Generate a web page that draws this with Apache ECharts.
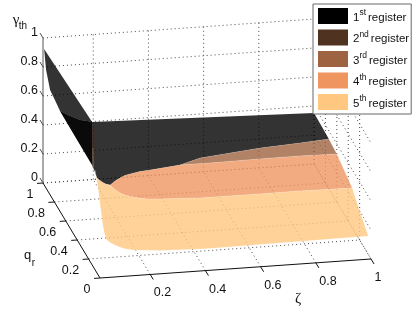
<!DOCTYPE html>
<html>
<head>
<meta charset="utf-8">
<style>html,body{margin:0;padding:0;background:#fff}#c{width:415px;height:312px}</style>
<script src="https://cdn.jsdelivr.net/npm/echarts@6/dist/echarts.min.js"></script>
</head>
<body>
<div id="c"></div>
<script>
// ---- tick values and labels ----
const zetaTicks = [0, 0.2, 0.4, 0.6, 0.8, 1];
const qTicks = [0.2, 0.4, 0.6, 0.8, 1];
const gammaTicks = [0, 0.2, 0.4, 0.6, 0.8, 1];
const zetaMin = 0.018;
const registerNames = ['1st register', '2nd register', '3rd register', '4th register', '5th register'];
const registerColors = ['#000000', '#4f3220', '#9e6340', '#ef9560', '#ffc780'];

// ---- surface pieces: [zeta, q, gamma_th] ----
const register1Flap = [[0.022,1,0.923],[0.196,1,0.397],[0.136,0.92,0.471],[0.085,0.85,0.551],[0.026,0.74,0.666],[0.024,0.82,0.69],[0.023,0.9,0.706],[0.023,0.97,0.798]];
const register1Fold = [[0.026,0.74,0.666],[0.085,0.85,0.551],[0.136,0.92,0.471],[0.196,1,0.397],[0.041,0.25,0.613]];
const register1FoldBack = [[0.026,0.74,0.666],[0.085,0.85,0.551],[0.136,0.92,0.471],[0.196,1,0.397],[0.041,0.25,0.613]];
const register1Main = [[0.196,1,0.397],[1,1,0.352],[1,0.74,0.343],[0.891,0.72,0.343],[0.743,0.7,0.341],[0.63,0.68,0.335],[0.517,0.66,0.328],[0.435,0.62,0.317],[0.377,0.6,0.321],[0.319,0.58,0.325],[0.276,0.55,0.34],[0.234,0.52,0.348],[0.211,0.5,0.354],[0.185,0.46,0.366],[0.151,0.38,0.402],[0.123,0.33,0.411],[0.101,0.3,0.441],[0.077,0.25,0.491],[0.048,0.2,0.554],[0.045,0.22,0.583],[0.041,0.25,0.613]];
const register2Sliver = [[0.051,0.3,0.834],[0.055,0.3,0.834],[0.056,0.3,0.694],[0.052,0.3,0.694]];
const register3Sliver = [[0.052,0.3,0.694],[0.056,0.3,0.694],[0.058,0.3,0.556],[0.054,0.3,0.556]];
const register3Main = [[0.435,0.62,0.317],[0.517,0.66,0.328],[0.63,0.68,0.335],[0.743,0.7,0.341],[0.891,0.72,0.343],[1,0.74,0.343],[1,0.6,0.331],[0.864,0.59,0.342],[0.718,0.58,0.348],[0.54,0.6,0.33]];
const register4Main = [[0.123,0.33,0.411],[0.151,0.38,0.402],[0.185,0.46,0.366],[0.211,0.5,0.354],[0.234,0.52,0.348],[0.276,0.55,0.34],[0.319,0.58,0.325],[0.377,0.6,0.321],[0.435,0.62,0.317],[0.54,0.6,0.33],[0.718,0.58,0.348],[0.864,0.59,0.342],[1,0.6,0.331],[1,0.33,0.273],[0.81,0.33,0.278],[0.666,0.33,0.277],[0.448,0.33,0.278],[0.304,0.33,0.291],[0.257,0.33,0.297],[0.231,0.33,0.305],[0.207,0.33,0.318],[0.18,0.33,0.331],[0.158,0.33,0.351],[0.137,0.33,0.382]];
const register5Main = [[0.123,0.33,0.411],[0.137,0.33,0.382],[0.158,0.33,0.351],[0.18,0.33,0.331],[0.207,0.33,0.318],[0.231,0.33,0.305],[0.257,0.33,0.297],[0.304,0.33,0.291],[0.448,0.33,0.278],[0.666,0.33,0.277],[0.81,0.33,0.278],[1,0.33,0.273],[1,0.263,0.234],[1,0.05,0.126],[0.409,0.05,0.116],[0.246,0.05,0.127],[0.148,0.05,0.143],[0.115,0.05,0.158],[0.09,0.05,0.178],[0.068,0.05,0.202],[0.053,0.05,0.224],[0.043,0.05,0.281],[0.036,0.05,0.365],[0.029,0.05,0.469],[0.032,0.1,0.553],[0.031,0.15,0.645],[0.045,0.22,0.583],[0.048,0.2,0.554],[0.077,0.25,0.491],[0.101,0.3,0.441]];
const registerPieces = [[register1Flap, register1Fold, register1FoldBack, register1Main],[register2Sliver],[register3Main, register3Sliver],[register4Main],[register5Main]];
const unoutlined = [register1Flap, register1Fold, register1FoldBack, register1Main, register2Sliver, register3Sliver];

// ---- oblique view of the 3-D box, mapped onto hidden value axes ----
function view(z, q, g) {
  return [100 + 276 * (z - zetaMin) - 57 * q, 278 - 19.35 * (z - zetaMin) - 95 * q - 145 * g];
}
const FONT = '"Liberation Sans", Arial, sans-serif';
const GREEK = '"Liberation Serif", serif';

function lineSeries(name, segs, style) {
  return {
    type: 'custom', name, coordinateSystem: 'cartesian2d', silent: true, clip: false, z: 1,
    data: segs.map((s, i) => [i]),
    renderItem: (p, api) => {
      const s = segs[api.value(0)];
      const a = api.coord(s[0]), b = api.coord(s[1]);
      return { type: 'line', shape: { x1: a[0], y1: a[1], x2: b[0], y2: b[1] }, style };
    }
  };
}

// grid on floor and the two back walls
const gridSegs = [];
const zt = zetaTicks.filter(v => v > 0);
zt.forEach(z => {
  gridSegs.push([view(z, 0, 0), view(z, 1, 0)]);
  gridSegs.push([view(z, 1, 0), view(z, 1, 1)]);
});
qTicks.forEach(q => {
  gridSegs.push([view(zetaMin, q, 0), view(1, q, 0)]);
  gridSegs.push([view(1, q, 0), view(1, q, 1)]);
});
gammaTicks.forEach(g => {
  gridSegs.push([view(zetaMin, 1, g), view(1, 1, g)]);
  gridSegs.push([view(1, 1, g), view(1, 0, g)]);
});

// axes and tick marks
const axisSegs = [
  [view(zetaMin, 0, 0), view(1, 0, 0)],
  [view(zetaMin, 0, 0), view(zetaMin, 1, 0)]
];
zt.forEach(z => { const a = view(z, 0, 0); axisSegs.push([a, [a[0] + 3, a[1] + 5]]); });
[0].concat(qTicks).forEach(q => { const a = view(zetaMin, q, 0); axisSegs.push([a, [a[0] - 6, a[1] + 0.4]]); });
const zAxisSegs = [[view(zetaMin, 1, 0), view(zetaMin, 1, 1)]];
gammaTicks.forEach(g => { const a = view(zetaMin, 1, g); zAxisSegs.push([a, [a[0] - 3, a[1] - 5]]); });

// text labels
const texts = [];
const fmt = v => String(v);
zetaTicks.forEach(z => {
  if (z === 0) { const a = view(z, 0, 0); texts.push({ p: [a[0] - 8, a[1] + 11], t: fmt(z), align: 'center' }); }
  else { const a = view(z, 0, 0); texts.push({ p: [a[0] + 3.5, a[1] + 18.5], t: fmt(z), align: 'left' }); }
});
qTicks.forEach(q => { const a = view(zetaMin, q, 0); texts.push({ p: [a[0] - 9.5, a[1] + 11.5], t: fmt(q), align: 'right' }); });
gammaTicks.forEach(g => { const a = view(zetaMin, 1, g); texts.push({ p: [a[0] - 5, a[1] - 5.5], t: fmt(g), align: 'right' }); });
texts.push({ p: [16, 20], t: 'γ', align: 'center', size: 15, family: GREEK });
texts.push({ p: [23, 26], t: 'th', align: 'center', size: 10 });
texts.push({ p: [27.5, 255], t: 'q', align: 'center', size: 13 });
texts.push({ p: [33.5, 263], t: 'r', align: 'center', size: 10 });
texts.push({ p: [298, 299], t: 'ζ', align: 'center', size: 15, family: GREEK });

const series = [
  lineSeries('grid', gridSegs, { stroke: '#4a4a4a', lineWidth: 1, lineDash: [1, 3] }),
  lineSeries('axes', axisSegs, { stroke: '#111', lineWidth: 1 }),
  lineSeries('zaxis', zAxisSegs, { stroke: '#555', lineWidth: 1 })
];
registerNames.forEach((name, r) => {
  const pieces = registerPieces[r];
  series.push({
    type: 'custom', name, coordinateSystem: 'cartesian2d', silent: true, clip: false, z: 2,
    itemStyle: { color: registerColors[r] },
    data: pieces.map((s, i) => [i]),
    renderItem: (p, api) => {
      const piece = pieces[api.value(0)];
      const pts = piece.map(v => api.coord(view(v[0], v[1], v[2])));
      const edge = unoutlined.includes(piece) ? null : 'rgba(255,255,255,0.35)';
      return { type: 'polygon', shape: { points: pts },
        style: { fill: registerColors[r], opacity: 0.8, stroke: edge, lineWidth: 0.5 } };
    }
  });
});
series.push({
  type: 'custom', name: 'labels', coordinateSystem: 'cartesian2d', silent: true, clip: false, z: 3,
  data: texts.map((s, i) => [i]),
  renderItem: (p, api) => {
    const t = texts[api.value(0)];
    const c = api.coord(t.p);
    return { type: 'text', x: c[0], y: c[1],
      style: { text: t.t, fill: '#111', font: (t.size || 12.5) + 'px ' + (t.family || FONT), align: t.align, verticalAlign: 'middle' } };
  }
});

const rich = {
  n: { fontFamily: FONT, fontSize: 11.5, color: '#111', verticalAlign: 'bottom' },
  s: { fontFamily: FONT, fontSize: 8.5, color: '#111', verticalAlign: 'bottom', padding: [0, 2, 6, 0] }
};
const chart = echarts.init(document.getElementById('c'), null, { renderer: 'canvas', width: 415, height: 312 });
chart.setOption({
  animation: false,
  backgroundColor: '#fff',
  grid: { left: 0, right: 0, top: 0, bottom: 0 },
  xAxis: { type: 'value', min: 0, max: 415, show: false },
  yAxis: { type: 'value', min: 0, max: 312, inverse: true, show: false },
  legend: {
    left: 313, top: 4, orient: 'vertical', selectedMode: false,
    data: registerNames.map((n, i) => ({ name: n, icon: 'rect', itemStyle: { color: registerColors[i], opacity: 1 } })),
    itemWidth: 30, itemHeight: 16, itemGap: 5.5, padding: [4, 2, 4, 5],
    backgroundColor: '#fff', borderColor: '#666', borderWidth: 1, borderRadius: 0,
    textStyle: { rich, fontFamily: FONT, fontSize: 11.5, color: '#111' },
    formatter: n => {
      const m = n.match(/^(\d)(\S+) (.*)$/);
      return '{n|' + m[1] + '}{s|' + m[2] + '}{n|' + m[3] + '}';
    }
  },
  series
});
</script>
</body>
</html>
